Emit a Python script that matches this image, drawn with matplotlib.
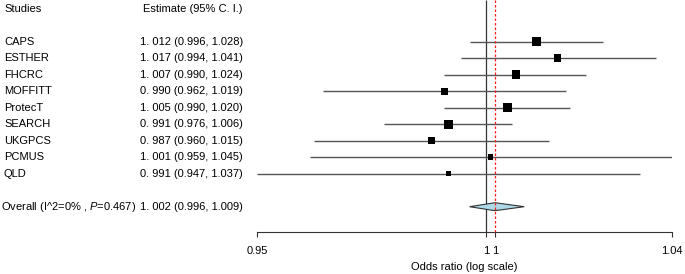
import numpy as np
import matplotlib
matplotlib.use("Agg")
import matplotlib.pyplot as plt
from matplotlib.transforms import blended_transform_factory

plt.rcParams['font.family'] = ['Liberation Sans', 'DejaVu Sans']
plt.rcParams['mathtext.fontset'] = 'custom'
plt.rcParams['mathtext.it'] = 'Liberation Sans:italic'
plt.rcParams['mathtext.rm'] = 'Liberation Sans'

# data
studies = ["CAPS", "ESTHER", "FHCRC", "MOFFITT", "ProtecT",
           "SEARCH", "UKGPCS", "PCMUS", "QLD"]
estimate = [1.012, 1.017, 1.007, 0.990, 1.005, 0.991, 0.987, 1.001, 0.991]
lower = [0.996, 0.994, 0.990, 0.962, 0.990, 0.976, 0.960, 0.959, 0.947]
upper = [1.028, 1.041, 1.024, 1.019, 1.020, 1.006, 1.015, 1.045, 1.037]
overall_label = r"Overall (I^2=0% , $\it{P}$=0.467)"
overall_est, overall_lo, overall_hi = 1.002, 0.996, 1.009
header = ["Studies", "Estimate (95% C. I.)"]

def fmt_ci(e, l, u):
    s = f"{e:.3f}"
    return s.replace(".", ". ", 1) + f" ({l:.3f}, {u:.3f})"

fig = plt.figure(figsize=(6.85, 2.74), dpi=100)
W, H = 685, 274
xmin, xmax = min(lower), max(upper)
ax = fig.add_axes([257 / W, 0, 415 / W, 1])
ax.set_xscale('log')
ax.set_xlim(xmin, xmax)
row0, step = 41.7, 16.5
ax.set_ylim((H - row0) / step, -row0 / step)
ax.patch.set_alpha(0)
for s in ['top', 'left', 'right']:
    ax.spines[s].set_visible(False)
ax.set_yticks([])

# axis line drawn in the middle of the figure, like R's forestplot
axis_row = (232 - row0) / step
ax.spines['bottom'].set_position(('data', axis_row))
ax.spines['bottom'].set_bounds(xmin, xmax)
ax.spines['bottom'].set_linewidth(0.8)
ax.spines['bottom'].set_color('#333333')
ticks = [xmin, 1.0, overall_est, xmax]
ax.xaxis.set_major_locator(matplotlib.ticker.FixedLocator(ticks))
ax.xaxis.set_minor_locator(matplotlib.ticker.NullLocator())
ax.set_xticklabels([f"{round(t, 2):g}" for t in ticks])
ax.tick_params(axis='x', length=3.8, width=0.8, color='#333333', pad=6, labelsize=8)

rows = np.arange(len(studies))
widths = np.array(upper) - np.array(lower)
sides = 1.62 / np.sqrt(widths)  # box side in px, larger for tighter CI
ax.hlines(rows, lower, upper, color='#555555', lw=1.0, zorder=2)
ax.scatter(estimate, rows, marker='s', s=(sides * 0.72) ** 2, color='black',
           linewidths=0, zorder=3)

top = ax.get_ylim()[1]
ax.vlines(1.0, top, axis_row, color='#333333', lw=0.9, zorder=1)
ax.vlines(overall_est, top, axis_row, color='#ff1a1a', lw=0.9,
          linestyles=(0, (2, 1.6)), zorder=4)

orow = len(studies) + 1
h = 4.0 / step
ax.fill([overall_lo, overall_est, overall_hi, overall_est],
        [orow, orow - h, orow, orow + h], facecolor='#add8e6',
        edgecolor='#333333', lw=0.8, zorder=3)

tr = blended_transform_factory(fig.transFigure, ax.transData)
fs = 8
hrow = (9.5 - row0) / step
ax.text(4 / W, hrow, header[0], transform=tr, fontsize=fs, va='center', clip_on=False)
ax.text(143 / W, hrow, header[1], transform=tr, fontsize=fs, va='center', clip_on=False)
for i, name in enumerate(studies):
    ax.text(4 / W, i, name, transform=tr, fontsize=fs, va='center', clip_on=False)
    ax.text(140 / W, i, fmt_ci(estimate[i], lower[i], upper[i]), transform=tr,
            fontsize=fs, va='center', clip_on=False)
ax.text(1 / W, orow, overall_label, transform=tr, fontsize=fs, va='center', clip_on=False)
ax.text(140 / W, orow, fmt_ci(overall_est, overall_lo, overall_hi), transform=tr,
        fontsize=fs, va='center', clip_on=False)

ax.text(0.5, (267 - row0) / step, "Odds ratio (log scale)",
        transform=blended_transform_factory(ax.transAxes, ax.transData),
        fontsize=fs, ha='center', va='center', clip_on=False)

fig.savefig("out.png", dpi=100)
